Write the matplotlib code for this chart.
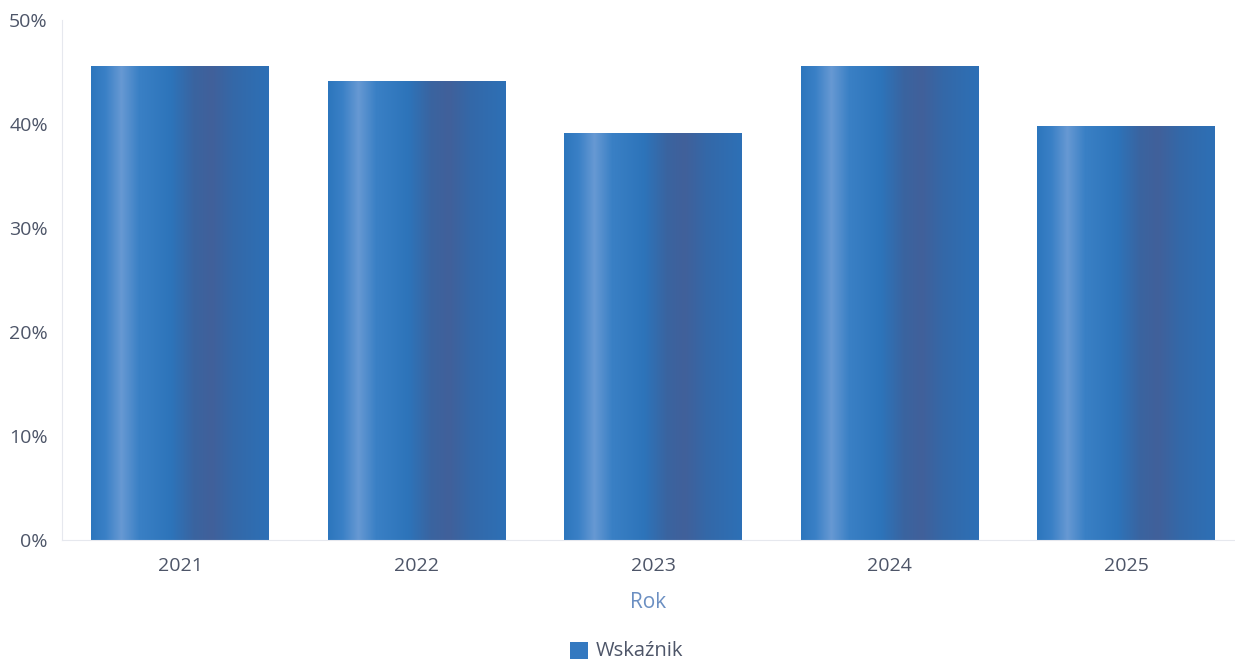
import numpy as np
import matplotlib
matplotlib.use("Agg")
import matplotlib.pyplot as plt
from matplotlib.colors import LinearSegmentedColormap
from matplotlib.patches import Rectangle

plt.rcParams['font.family'] = ['Open Sans', 'DejaVu Sans']

years = ['2021', '2022', '2023', '2024', '2025']
values = [45.6, 44.1, 39.1, 45.6, 39.8]
y_ticks = [0, 10, 20, 30, 40, 50]
x_title = 'Rok'
legend_label = 'Wskaźnik'

# horizontal shading across each bar: light stripe left, darker band right
cmap = LinearSegmentedColormap.from_list('bar', [
    (0.0, '#2c76bd'), (0.08, '#3a80c6'), (0.17, '#6799d3'), (0.27, '#3a80c5'),
    (0.45, '#2d74ba'), (0.58, '#3a64a0'), (0.68, '#41609a'), (0.8, '#3468a8'),
    (1.0, '#2d70b6')])
grad = np.linspace(0, 1, 256).reshape(1, -1)

fig = plt.figure(figsize=(12.35, 6.62), dpi=100)
ax = fig.add_axes([0.050, 0.184, 0.950, 0.786])

width = 0.75
for i, v in enumerate(values):
    rect = Rectangle((i - width / 2, 0), width, v, facecolor='none', edgecolor='none')
    ax.add_patch(rect)
    im = ax.imshow(grad, cmap=cmap, aspect='auto', interpolation='bilinear',
                   extent=(i - width / 2, i + width / 2, 0, v), zorder=2)
    im.set_clip_path(rect)

ax.set_xlim(-0.5, 4.46)
ax.set_ylim(0, 50)
ax.set_xticks(range(len(years)))
ax.set_xticklabels(years)
ax.set_yticks(y_ticks)
ax.set_yticklabels([f'{t}%' for t in y_ticks])
ax.tick_params(axis='both', length=0, labelsize=14, colors='#4d5568')
ax.tick_params(axis='x', pad=12)
ax.tick_params(axis='y', pad=10)

for s in ['top', 'right']:
    ax.spines[s].set_visible(False)
ax.spines['left'].set_color('#e6e8ee')
ax.spines['bottom'].set_color('#e6e8ee')

ax.set_xlabel(x_title, fontsize=15, color='#6b8fc2', labelpad=12)

fig.patches.append(Rectangle((570 / 1235, 1 - 659 / 662), 18 / 1235, 17 / 662,
                             transform=fig.transFigure, facecolor='#3479c0',
                             edgecolor='none'))
fig.text(596 / 1235, 1 - 651 / 662, legend_label, fontsize=14.5, color='#4d5568',
         va='center', ha='left')

fig.savefig('out.png', dpi=100)
